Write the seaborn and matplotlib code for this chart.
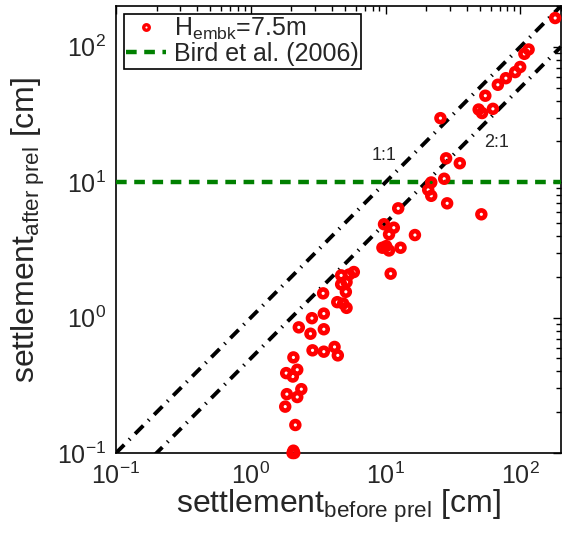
import numpy as np
import pandas as pd
import matplotlib
matplotlib.use("Agg")
import matplotlib.pyplot as plt
import seaborn as sns
from matplotlib.lines import Line2D

# ---- data ----
before_prel = [2.04, 2.10, 2.07, 2.14, 1.80, 1.85, 2.21, 2.37, 2.07, 1.83, 2.05, 2.21,
               2.87, 3.48, 4.18, 4.42, 2.27, 2.77, 2.84, 3.48, 3.48, 3.44,
               4.68, 5.81, 5.36, 5.13, 4.68, 5.07, 4.38, 4.84, 5.13,
               12.4, 9.73, 11.5, 10.6, 16.5, 9.47, 10.1, 10.6, 12.9, 10.9,
               21.8, 20.7, 21.8, 27.2, 28.6, 28.1, 35.5, 25.5, 51.3,
               49.0, 51.9, 62.5, 54.9, 68.0, 78.0, 91.4, 99.6, 107.0, 115.0, 181.0]
after_prel = [0.100, 0.100, 0.104, 0.161, 0.220, 0.272, 0.259, 0.296, 0.508, 0.389, 0.367, 0.412,
              0.573, 0.560, 0.607, 0.526, 0.847, 0.760, 0.99, 1.07, 0.82, 1.51,
              2.05, 2.17, 2.08, 1.83, 1.76, 1.55, 1.30, 1.27, 1.18,
              6.41, 4.89, 4.61, 4.12, 4.07, 3.28, 3.37, 3.13, 3.28, 2.11,
              9.95, 8.77, 7.93, 10.6, 6.98, 15.0, 13.8, 29.7, 5.79,
              34.4, 32.4, 34.8, 43.5, 52.4, 58.6, 65.0, 70.9, 88.7, 95.5, 163.0]
bird_limit = 10.0
ratio_x = [0.1, 200.0]
ratios = [1.0, 2.0]
ratio_labels = ["1:1", "2:1"]
legend_labels = [r"H$_{\mathrm{embk}}$=7.5m", "Bird et al. (2006)"]

# ---- style ----
sns.set_style("white")
plt.rcParams["font.family"] = ["Liberation Sans", "DejaVu Sans"]
plt.rcParams["mathtext.fontset"] = "custom"
plt.rcParams["mathtext.rm"] = "Liberation Sans"
plt.rcParams["mathtext.it"] = "Liberation Sans:italic"
plt.rcParams["mathtext.bf"] = "Liberation Sans:bold"

fig = plt.figure(figsize=(5.62, 5.40), dpi=100)
ax = fig.add_axes([116 / 562, 87 / 540, 445 / 562, 447 / 540])

# ratio lines
for r in ratios:
    line_df = pd.DataFrame({"x": ratio_x, "y": [v / r for v in ratio_x]})
    sns.lineplot(data=line_df, x="x", y="y", ax=ax, color="black", lw=2.8,
                 dashes=False, zorder=2)
    ax.lines[-1].set_dashes([3.0, 1.8, 0.35, 1.8])

ax.axhline(bird_limit, color="#008000", lw=3.2, dashes=(2.4, 1.7), zorder=3)

df = pd.DataFrame({"before": before_prel, "after": after_prel})
sns.scatterplot(data=df, x="before", y="after", ax=ax, marker="o", s=32,
                color="red", linewidth=3.3, legend=False, zorder=5, clip_on=False)
coll = ax.collections[-1]
coll.set_facecolor("none")
coll.set_edgecolor("red")

ax.set_xscale("log")
ax.set_yscale("log")
ax.set_xlim(0.1, 200)
ax.set_ylim(0.1, 200)

ax.text(9.7, 15.8, ratio_labels[0], fontsize=13, ha="center", va="center")
ax.text(66.5, 19.8, ratio_labels[1], fontsize=13, ha="center", va="center")

ax.set_xlabel(r"settlement$_{\mathrm{before\ prel}}$ [cm]", fontsize=23, labelpad=-1)
ax.set_ylabel(r"settlement$_{\mathrm{after\ prel}}$ [cm]", fontsize=23, labelpad=7)

ax.tick_params(which="both", direction="in", top=True, right=True,
               labelsize=18, width=1.0, color="black")
ax.tick_params(axis="x", which="major", pad=7)
ax.tick_params(axis="y", which="major", pad=7)
ax.tick_params(which="major", length=6)
ax.tick_params(which="minor", length=3.5)
for sp in ax.spines.values():
    sp.set_visible(True)
    sp.set_color("black")
    sp.set_linewidth(1.2)

handles = [
    Line2D([], [], marker="o", ls="none", mfc="none", mec="red", ms=4, mew=2.4),
    Line2D([], [], color="#008000", lw=3.2, dashes=(2.4, 1.7)),
]
leg = ax.legend(handles, legend_labels, loc="upper left", fontsize=18,
                frameon=True, fancybox=False, framealpha=1, edgecolor="black",
                borderpad=0.1, labelspacing=0.0, handlelength=1.6,
                handletextpad=0.3, borderaxespad=0.3)
leg.get_frame().set_linewidth(1.2)

fig.savefig("out.png", dpi=100)
